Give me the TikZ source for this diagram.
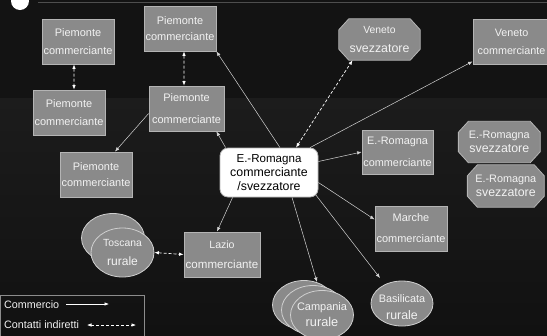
\documentclass[tikz,border=0pt]{standalone}
\usepackage{fontspec}
\setmainfont{Liberation Sans}
\usetikzlibrary{shapes.geometric,arrows.meta,calc}
\definecolor{bgtop}{HTML}{131313}
\definecolor{bgmid}{HTML}{1C1C1C}
\definecolor{bgbot}{HTML}{111111}
\definecolor{boxfill}{HTML}{8A8A8A}
\definecolor{boxline}{HTML}{B4B4B4}
\definecolor{ellline}{HTML}{CFCFCF}
\definecolor{textcol}{HTML}{F2F2F2}
\definecolor{linecol}{HTML}{D4D4D4}
\definecolor{topline}{HTML}{4E4E4E}
\definecolor{legline}{HTML}{8C8C8C}
\newcommand\fs[2]{\fontsize{#1}{#2}\selectfont}
\newcommand\octpath[1]{%
  \draw[octline] ([xshift=10bp]#1.north west) -- ([xshift=-10bp]#1.north east)
    -- ([yshift=-11bp]#1.north east) -- ([yshift=11bp]#1.south east)
    -- ([xshift=-10bp]#1.south east) -- ([xshift=10bp]#1.south west)
    -- ([yshift=11bp]#1.south west) -- ([yshift=-11bp]#1.north west) -- cycle;}
\pgfdeclarelayer{back}
\pgfdeclarelayer{mid}
\pgfsetlayers{back,mid,main}
\begin{document}
\begin{tikzpicture}[x=1bp,y=-1bp,
  pbox/.style={rectangle, draw=boxline, fill=boxfill, line width=0.8bp, inner sep=0pt,
    minimum width=72bp, minimum height=45bp, align=center, text=textcol},
  oct/.style={rectangle, inner sep=0pt, align=center, text=textcol},
  octline/.style={draw=boxline, fill=boxfill, line width=0.8bp},
  ell/.style={ellipse, draw=ellline, fill=boxfill, line width=0.8bp, inner sep=0pt,
    minimum width=63bp, minimum height=49bp},
  etext/.style={inner sep=0pt, align=center, text=textcol},
  hub/.style={rectangle, rounded corners=8bp, draw=boxline, fill=white, line width=0.8bp,
    inner sep=0pt, minimum width=98bp, minimum height=49bp, align=center, text=black},
  tip/.style={},
  conn/.style={draw=linecol, line width=0.5bp, -{Latex[length=4.5bp,width=3.5bp]}},
  dconn/.style={draw=white, line width=0.7bp, dash pattern=on 3bp off 2bp,
    {Latex[length=4.5bp,width=3.5bp]}-{Latex[length=4.5bp,width=3.5bp]}},
  legtext/.style={inner sep=0pt, text=textcol, font=\fs{10.8}{13}},
  legbox/.style={draw=legline, line width=0.8bp, inner sep=0pt}
]
\useasboundingbox (0,0) rectangle (547,335);
\begin{pgfonlayer}{back}
  \fill[bgtop] (0,0) rectangle (547,335);
  \shade[top color=bgmid, bottom color=bgbot] (0,98) rectangle (547,335);
  \draw[topline, line width=0.8bp] (38,2.5) -- (547,2.5);
  \fill[white] (20,1) circle[radius=9bp];
\end{pgfonlayer}

% Piemonte boxes
\node[pbox, font=\fs{11}{18.3}] (p1) at (78,41.5) {Piemonte\\commerciante};
\node[pbox, font=\fs{11}{16}] (p2) at (180,28.5) {Piemonte\\commerciante};
\node[pbox, font=\fs{11}{17.7}] (p3) at (69,112.5) {Piemonte\\commerciante};
\node[pbox, minimum width=75bp, font=\fs{11}{21.7}] (p4) at (186.5,108.5) {Piemonte\\commerciante};
\node[pbox, font=\fs{11}{16.7}] (p5) at (96,174.5) {Piemonte\\commerciante};

% Veneto
\node[oct, minimum width=81bp, minimum height=41bp, font=\fs{10.4}{19}] (vs) at (379.5,39.5) {Veneto\\{\fs{12.4}{19}svezzatore}};
\begin{pgfonlayer}{mid}\octpath{vs}\end{pgfonlayer}
\node[pbox, minimum width=77bp, font=\fs{10.8}{18}] (vc) at (511.5,41.5) {Veneto\\commerciante};

% Emilia-Romagna
\node[pbox, minimum width=71bp, minimum height=44bp, font=\fs{10.9}{22}] (erc) at (397.5,152) {E.-Romagna\\commerciante};
\node[oct, minimum width=81.5bp, minimum height=41bp, font=\fs{10.9}{14}] (es1) at (499.3,142) {E.-Romagna\\{\fs{12.4}{14}svezzatore}};
\begin{pgfonlayer}{mid}\octpath{es1}\end{pgfonlayer}
\node[oct, minimum width=76.5bp, minimum height=42bp, font=\fs{10.9}{14}] (es2) at (505.8,186) {E.-Romagna\\{\fs{12.4}{14}svezzatore}};
\begin{pgfonlayer}{mid}\octpath{es2}\end{pgfonlayer}

% Marche, Lazio
\node[pbox, font=\fs{11}{21}] (mar) at (411,228.5) {Marche\\commerciante};
\node[pbox, minimum width=76bp, font=\fs{10.6}{20}] (lz) at (222,254.5) {Lazio\\{\fs{11.6}{20}commerciante}};

% hub
\node[hub, font=\fs{11.6}{13.7}] (c) at (269,172.5) {E.-Romagna\\{\fs{12.4}{13.7}commerciante}\\{\fs{12.4}{13.7}/svezzatore}};

% ellipses
\node[ell] (tosb) at (113,238) {};
\node[ell] (tos) at (122.5,252.5) {};
\node[etext, font=\fs{10.4}{20}] (tost) at (122.5,252.5) {Toscana\\{\fs{12.1}{20}rurale}};

\node[ell] (cam3) at (304,305) {};
\node[ell] (cam2) at (313,310) {};
\node[ell] (cam) at (322,315) {};
\node[etext, font=\fs{11}{16}] (camt) at (322,315) {Campania\\{\fs{12.8}{16}rurale}};

\node[ell, minimum width=62bp, minimum height=45bp] (bas) at (402,303.5) {};
\node[etext, font=\fs{10.9}{17}] (bast) at (402,307.5) {Basilicata\\{\fs{12.4}{17}rurale}};

% connectors
\draw[conn] ([xshift=11bp]c.north) -- (p2.south east);
\draw[conn] ([xshift=6bp]c.north west) -- ([xshift=-8bp]p4.south east);
\draw[conn] ([yshift=-5bp]p4.west) -- ([xshift=19bp]p5.north);
\draw[dconn] ([xshift=-4bp]p1.south) -- ([xshift=5bp]p3.north);
\draw[dconn] ([xshift=4bp]p2.south) -- ([xshift=-2.5bp]p4.north);
\draw[dconn] ([xshift=27bp]c.north) -- ([xshift=-27bp]vs.south);
\draw[conn] ([xshift=41bp]c.north) -- ([yshift=3bp]vc.south west);
\draw[conn] ([yshift=11bp]c.east) -- (erc.west);
\draw[conn] ([yshift=-10bp]c.east) -- ([yshift=9bp]mar.west);
\draw[conn] ([shift={(-3bp,3bp)}]c.south east) -- ([shift={(-22bp,25.5bp)}]bas.center);
\draw[conn] ([xshift=23bp]c.south) -- ([shift={(13bp,23bp)}]cam3.center);
\draw[conn] ([xshift=13bp]c.south west) -- ([xshift=-5bp]lz.north);
\draw[dconn] (tos.east) -- (lz.west);

% legend
\node[legbox, minimum width=143.5bp, minimum height=46bp, anchor=north west] (leg) at (0.5,294.5) {};
\node[legtext, anchor=base west] (l1) at (4,308) {Commercio};
\node[legtext, anchor=base west] (l2) at (4,328.5) {Contatti indiretti};
\coordinate (a1s) at (66,304);
\coordinate (a1e) at (109,304);
\coordinate (a2s) at (87,325);
\coordinate (a2e) at (136,325);
\draw[conn, draw=white, line width=0.6bp] (a1s) -- (a1e);
\draw[dconn, line width=0.6bp] (a2s) -- (a2e);
\end{tikzpicture}
\end{document}
